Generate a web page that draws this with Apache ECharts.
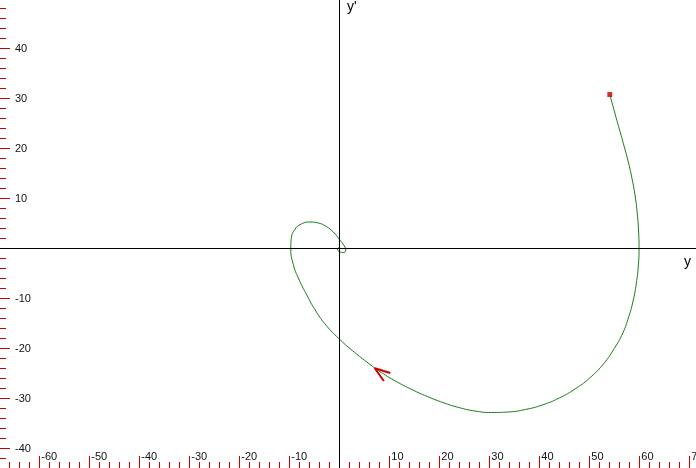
<!DOCTYPE html>
<html>
<head>
<meta charset="utf-8">
<script src="https://cdn.jsdelivr.net/npm/echarts@6/dist/echarts.min.js"></script>
<style>
html,body{margin:0;padding:0;background:#fff;}
#chart{width:696px;height:468px;}
</style>
</head>
<body>
<div id="chart"></div>
<script>
// phase curve: y (horizontal) and y' (vertical)
const curveY  = [54.1, 55.05, 56.0, 56.95, 57.85, 58.6, 59.2, 59.6, 59.85, 59.95, 59.8, 59.4, 58.8, 57.9, 56.7, 55.0, 52.9, 50.3, 47.3, 44.0, 40.6, 37.2, 33.8, 30.4, 27.1, 23.9, 20.7, 17.6, 14.5, 11.4, 8.4, 5.5, 2.6, -0.1, -2.6, -4.7, -6.5, -8.1, -9.2, -9.7, -9.6, -8.9, -7.6, -5.9, -4.2, -2.6, -1.2, 0.1, 1.0, 1.3, 0.8, 0.0, -0.4, -0.1];
const curveYp = [30.8, 27.3, 23.9, 20.5, 17.1, 13.7, 10.3, 6.9, 3.5, 0.0, -3.5, -7.0, -10.3, -13.6, -16.9, -20.0, -23.0, -25.7, -28.0, -29.9, -31.3, -32.2, -32.7, -32.8, -32.5, -31.8, -30.8, -29.6, -28.2, -26.6, -24.8, -22.7, -20.4, -18.0, -15.4, -12.5, -9.3, -6.1, -3.2, 0.0, 2.0, 3.8, 4.9, 5.3, 5.1, 4.4, 3.3, 1.7, 0.5, -0.3, -0.8, -0.6, -0.1, 0.2];
const startPoint = [54.1, 30.8];
const arrowY  = [10.2, 7.1, 8.9];
const arrowYp = [-24.9, -23.95, -26.5];
const xTickMin = -70, xTickMax = 80, xTickStep = 10;
const yTickMin = -50, yTickMax = 50, yTickStep = 10;
const xHiddenLabels = [-70, 0, 80];
const yHiddenLabels = [-50, 0, 50];

const RED = '#cc0000';
const GREEN = '#1a7a1a';
const FONT = '"Liberation Sans", Arial, sans-serif';

const chart = echarts.init(document.getElementById('chart'), null, {renderer: 'canvas'});
chart.setOption({
  animation: false,
  backgroundColor: '#ffffff',
  grid: {left: -10.7, right: -43.3, top: -1.5, bottom: -30.5, containLabel: false, outerBoundsMode: 'none'},
  xAxis: {
    type: 'value', min: xTickMin, max: xTickMax, interval: xTickStep,
    position: 'bottom', offset: -30.5,
    axisLine: {show: false, onZero: false},
    axisTick: {show: true, inside: true, length: 12, lineStyle: {color: RED, width: 1}},
    minorTick: {show: true, splitNumber: 5, length: 6, lineStyle: {color: RED, width: 1}},
    splitLine: {show: false},
    axisLabel: {
      inside: true, margin: 11, align: 'left', verticalAlign: 'middle', padding: [0, 0, 0, 2],
      color: '#111', fontSize: 11, fontFamily: FONT,
      formatter: v => xHiddenLabels.includes(v) ? '' : String(v)
    }
  },
  yAxis: {
    type: 'value', min: yTickMin, max: yTickMax, interval: yTickStep,
    position: 'left', offset: -10.7,
    axisLine: {show: false, onZero: false},
    axisTick: {show: true, inside: true, length: 10, lineStyle: {color: RED, width: 1}},
    minorTick: {show: true, splitNumber: 5, length: 6, lineStyle: {color: RED, width: 1}},
    splitLine: {show: false},
    axisLabel: {
      inside: true, margin: 15, align: 'left', verticalAlign: 'middle',
      color: '#111', fontSize: 11, fontFamily: FONT,
      formatter: v => yHiddenLabels.includes(v) ? '' : String(v)
    }
  },
  graphic: [
    {type: 'text', left: 347, top: 0, style: {text: "y'", font: '14px ' + FONT, fill: '#000'}},
    {type: 'text', left: 684, top: 255, style: {text: 'y', font: '14px ' + FONT, fill: '#000'}}
  ],
  series: [
    {
      type: 'line',
      data: curveY.map((v, i) => [v, curveYp[i]]),
      smooth: 0.5,
      showSymbol: false,
      lineStyle: {color: GREEN, width: 1},
      silent: true,
      z: 3,
      markLine: {
        silent: true, symbol: 'none', label: {show: false}, animation: false,
        lineStyle: {color: '#000', width: 1, type: 'solid'},
        data: [{xAxis: 0}, {yAxis: 0}]
      }
    },
    {
      type: 'line',
      data: arrowY.map((v, i) => [v, arrowYp[i]]),
      showSymbol: false,
      lineStyle: {color: RED, width: 2},
      silent: true,
      z: 4
    },
    {
      type: 'scatter',
      data: [startPoint],
      symbol: 'rect',
      symbolSize: 5,
      itemStyle: {color: RED},
      silent: true,
      z: 5
    }
  ]
});
</script>
</body>
</html>
